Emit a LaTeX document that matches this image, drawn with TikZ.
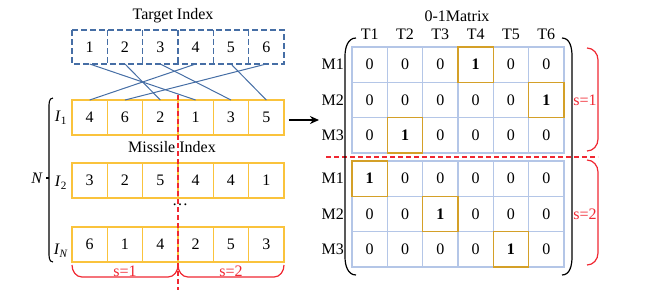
\documentclass[tikz,border=0pt]{standalone}
\usepackage{fontspec}
\setmainfont{Liberation Serif}
\usetikzlibrary{arrows.meta, positioning}
\definecolor{tgtblue}{RGB}{70,110,165}
\definecolor{misorange}{RGB}{250,195,60}
\definecolor{gridblue}{RGB}{180,198,231}
\definecolor{hitgold}{RGB}{212,160,40}
\definecolor{cutred}{RGB}{240,40,50}

\begin{document}
\begin{tikzpicture}[x=1pt, y=-1pt, >={Stealth[length=9pt,width=8pt]},
  font=\rmfamily\fontsize{16}{18}\selectfont,
  tbox/.style={minimum width=35.33pt, minimum height=34pt, inner sep=0pt, outer sep=0pt},
  tline/.style={draw=tgtblue, line width=1.1pt, dash pattern=on 6pt off 3pt},
  mbox/.style={draw=misorange, line width=1.4pt,
    minimum width=35.33pt, minimum height=35pt, inner sep=0pt, outer sep=0pt},
  cell/.style={draw=gridblue, line width=1.4pt,
    minimum width=35.33pt, minimum height=35.33pt, inner sep=0pt, outer sep=0pt},
  hitbox/.style={draw=hitgold, line width=1.4pt},
  link/.style={draw=tgtblue, line width=1pt},
  cut/.style={draw=cutred, line width=1.3pt, dash pattern=on 5pt off 3pt},
  part/.style={draw=cutred, line width=1.2pt},
  lbl/.style={text=cutred}]
  \useasboundingbox (0,0) rectangle (668,290);

  % target index
  \node (ttl) at (173,16) {Target Index};
  \foreach \i in {1,...,6}
    \node[tbox] (t\i) at ({72+35.33*(\i-0.5)},47) {\i};
  \draw[tline] (t1.north west) rectangle (t6.south east);
  \foreach \i in {1,...,5}
    \draw[tline] (t\i.north east) -- (t\i.south east);

  % missile index rows
  \foreach \row/\y/\vals in {1/117.5/{4,6,2,1,3,5}, 2/180.5/{3,2,5,4,4,1}, N/244.5/{6,1,4,2,5,3}}
    \foreach \v [count=\p] in \vals
      \node[mbox] (r\row-\p) at ({72+35.33*(\p-0.5)},\y) {\v};
  \node (mttl) at (172,147) {Missile Index};
  \node (dots) at (180,205) {\ldots};
  \foreach \v [count=\p] in {4,6,2,1,3,5}
    \draw[link] (t\v.south) -- (r1-\p.north);

  \node (i1) at (61,118) {\textit{I}\textsubscript{1}};
  \node (i2) at (61,183) {\textit{I}\textsubscript{2}};
  \node (iN) at (61,251) {\textit{I}\textsubscript{\textit{N}}};
  \node (nlbl) at (37,178) {\textit{N}};
  \draw[line width=1.1pt] (53,98) to[out=180,in=90] (49,108) -- (49,252) to[out=-90,in=180] (53,262);
  \draw[line width=1.1pt] (nlbl.east) -- (49,178);

  % split of the missiles
  \draw[cut] (178,95) -- (178,290);
  \draw[part] (72,265) to[out=-90,in=180] (82,277) -- (168,277) to[out=0,in=-90] (178,265);
  \draw[part] (178,265) to[out=-90,in=180] (188,277) -- (274,277) to[out=0,in=-90] (284,265);
  \node[lbl] (s1a) at (125,271) {s=1};
  \node[lbl] (s2a) at (231,271) {s=2};

  \draw[line width=2pt, ->] ([xshift=5pt,yshift=-2.5pt]r1-6.east) -- ++(30,0);

  % 0-1 matrix
  \node (xttl) at (457,16) {0-1Matrix};
  \foreach \c in {1,...,6}
    \node (h\c) at ({352+35.33*(\c-0.5)},34) {T\c};
  \foreach \b/\ytop/\ones in {1/47/{4,6,2}, 2/161/{1,3,5}}
    \foreach \hit [count=\r] in \ones {
      \node[anchor=east, inner sep=0pt] (m\b-\r) at (344,{\ytop+35.33*(\r-0.5)}) {M\r};
      \foreach \c in {1,...,6}
        \node[cell] (c\b-\r-\c) at ({352+35.33*(\c-0.5)},{\ytop+35.33*(\r-0.5)})
          {\ifnum\c=\hit\relax\textbf{1}\else 0\fi};
    }
  \foreach \b/\r/\c in {1/1/4, 1/2/6, 1/3/2, 2/1/1, 2/2/3, 2/3/5}
    \draw[hitbox] (c\b-\r-\c.north west) rectangle (c\b-\r-\c.south east);

  \draw[cut] (326,157) -- (598,157);
  \draw[line width=1.2pt] (356,38) to[out=180,in=90] (345,56) -- (345,257) to[out=-90,in=180] (356,275);
  \draw[line width=1.2pt] (562,38) to[out=0,in=90] (572,56) -- (572,257) to[out=-90,in=0] (562,275);

  \draw[part] (587,48) to[out=0,in=90] (598,60) -- (598,139) to[out=-90,in=0] (587,151);
  \draw[part] (587,160) to[out=0,in=90] (598,172) -- (598,253) to[out=-90,in=0] (587,265);
  \node[lbl] (s1b) at (585,100) {s=1};
  \node[lbl] (s2b) at (585,214) {s=2};
\end{tikzpicture}
\end{document}
